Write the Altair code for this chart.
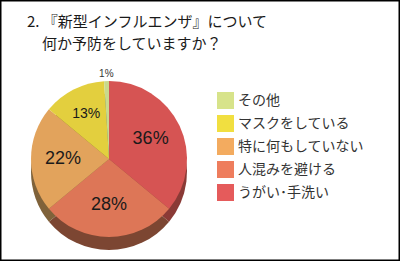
import altair as alt
import pandas as pd

categories = ["うがい･手洗い", "人混みを避ける", "特に何もしていない", "マスクをしている", "その他"]
values = [36, 28, 22, 13, 1]
legend_order = ["その他", "マスクをしている", "特に何もしていない", "人混みを避ける", "うがい･手洗い"]

top_colors = ["#d65453", "#dd7657", "#e2a35c", "#e3cf3e", "#c9d98c"]
side_colors = ["#8a3a36", "#7c4632", "#7f623a", "#80742e", "#75804e"]
legend_colors = ["#d7e38a", "#f1df40", "#f3ab5f", "#ee7d5d", "#e55b5b"]

title_line1 = "2. 『新型インフルエンザ』について"
title_line2 = "何か予防をしていますか？"

df = pd.DataFrame({"category": categories, "value": values, "idx": list(range(len(values)))})

CX, CY, R, DEPTH = 109, 159, 78, 13
FONT = "Noto Sans CJK JP"

base = alt.Chart(df).transform_calculate(label="datum.value + '%'")

theta = alt.Theta("value:Q", stack=True)
order = alt.Order("idx:Q", sort="ascending")

side = base.mark_arc(radius=R).encode(
    theta=theta, order=order,
    x=alt.value(CX), y=alt.value(CY + DEPTH),
    color=alt.Color("category:N", scale=alt.Scale(domain=categories, range=side_colors), legend=None),
)

top = base.mark_arc(radius=R).encode(
    theta=theta, order=order,
    x=alt.value(CX), y=alt.value(CY),
    color=alt.Color("category:N", scale=alt.Scale(domain=categories, range=top_colors), legend=None),
)

legend_layer = base.mark_arc(radius=R, opacity=0).encode(
    theta=theta, order=order,
    x=alt.value(CX), y=alt.value(CY),
    color=alt.Color(
        "category:N",
        scale=alt.Scale(domain=legend_order, range=legend_colors),
        legend=alt.Legend(
            title=None, orient="none", legendX=217, legendY=92,
            symbolType="square", symbolSize=289, symbolOpacity=1,
            symbolStrokeWidth=0, labelFontSize=14, labelFont=FONT,
            labelColor="#333333", labelOffset=4, rowPadding=6, padding=0,
            labelLimit=300,
        ),
    ),
)

big_labels = base.mark_text(radius=46, fontSize=18, font="Liberation Sans", color="#1a1a1a").encode(
    theta=theta, order=order,
    x=alt.value(CX), y=alt.value(CY),
    text="label:N",
    opacity=alt.condition("datum.value >= 20", alt.value(1), alt.value(0)),
)

mid_labels = base.mark_text(radius=50, fontSize=14, font="Liberation Sans", color="#1a1a1a").encode(
    theta=theta, order=order,
    x=alt.value(CX), y=alt.value(CY),
    text="label:N",
    opacity=alt.condition("datum.value >= 5 && datum.value < 20", alt.value(1), alt.value(0)),
)

small_labels = base.mark_text(radius=85, fontSize=10, font="Liberation Sans", color="#333333").encode(
    theta=theta, order=order,
    x=alt.value(CX), y=alt.value(CY),
    text="label:N",
    opacity=alt.condition("datum.value < 5", alt.value(1), alt.value(0)),
)

title_df = pd.DataFrame({"t": [title_line1]})
title1 = alt.Chart(title_df).mark_text(
    align="left", baseline="top", fontSize=15, font=FONT, color="#1a1a1a",
).encode(x=alt.value(27), y=alt.value(15), text="t:N")

title_df2 = pd.DataFrame({"t": [title_line2]})
title2 = alt.Chart(title_df2).mark_text(
    align="left", baseline="top", fontSize=15, font=FONT, color="#1a1a1a",
).encode(x=alt.value(42), y=alt.value(37), text="t:N")

chart = alt.layer(side, top, legend_layer, big_labels, mid_labels, small_labels, title1, title2).resolve_scale(
    color="independent"
).properties(
    width=400, height=261, padding=0, autosize="none", background="white"
).configure_view(stroke="black", strokeWidth=3)

chart.save("out.html", embed_options={"renderer": "svg", "actions": False})
